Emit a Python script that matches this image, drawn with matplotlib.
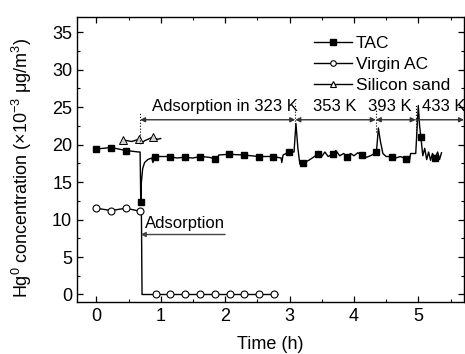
import matplotlib
matplotlib.use('Agg')
import matplotlib.pyplot as plt
from matplotlib.lines import Line2D
from matplotlib.ticker import MultipleLocator

plt.rcParams['font.family'] = ['Liberation Sans', 'DejaVu Sans']
plt.rcParams['mathtext.fontset'] = 'custom'
plt.rcParams['mathtext.rm'] = 'Liberation Sans'
plt.rcParams['mathtext.it'] = 'Liberation Sans'

# TAC trace
tac_t = [0, 0.23, 0.46, 0.66, 0.68, 0.69, 0.70, 0.72, 0.75, 0.80, 0.86, 0.88, 0.91,
         1.14, 1.25, 1.37, 1.50, 1.61, 1.75, 1.84, 1.87, 1.90, 2.06, 2.29, 2.52, 2.75,
         2.87, 2.88, 2.90, 2.99, 3.07, 3.10, 3.13, 3.16, 3.21, 3.30, 3.44, 3.50, 3.55,
         3.60, 3.67, 3.72, 3.78, 3.84, 3.89, 3.95, 4.00, 4.06, 4.12, 4.20, 4.28, 4.35,
         4.38, 4.41, 4.45, 4.50, 4.59, 4.65, 4.72, 4.81, 4.86, 4.88, 4.96, 4.98, 5.00,
         5.02, 5.04, 5.07, 5.10, 5.13, 5.16, 5.19, 5.22, 5.26, 5.30, 5.33, 5.36]
tac_v = [19.4, 19.6, 19.2, 19.0, 19.0, 12.4, 15.0, 16.8, 17.6, 18.0, 18.2, 17.6, 18.4,
         18.4, 18.2, 18.3, 18.2, 18.4, 18.3, 18.1, 17.6, 18.6, 18.7, 18.6, 18.4, 18.4,
         18.2, 17.6, 18.6, 19.0, 19.0, 22.8, 19.5, 17.4, 17.5, 17.9, 18.7, 18.4, 19.0,
         18.4, 18.7, 19.2, 18.5, 18.8, 18.4, 18.8, 18.5, 18.9, 18.6, 18.3, 18.6, 19.0,
         22.2, 20.5, 18.8, 18.4, 18.4, 18.2, 18.4, 18.1, 17.6, 18.8, 18.8, 22.0, 25.2,
         22.5, 21.0, 18.5, 19.5, 18.0, 19.0, 17.9, 18.8, 18.2, 19.0, 18.0, 18.9]
tac_mt = [0, 0.23, 0.46, 0.69, 0.91, 1.14, 1.37, 1.61, 1.84, 2.06, 2.29, 2.52, 2.75,
          2.99, 3.21, 3.44, 3.67, 3.89, 4.12, 4.35, 4.59, 4.81, 5.04, 5.26]
tac_mv = [19.4, 19.6, 19.2, 12.4, 18.4, 18.4, 18.3, 18.4, 18.1, 18.7, 18.6, 18.4, 18.4,
          19.0, 17.5, 18.7, 18.7, 18.4, 18.6, 19.0, 18.4, 18.1, 21.0, 18.2]

# Virgin AC
vac_t = [0, 0.23, 0.46, 0.68, 0.70, 0.71, 0.92, 1.15, 1.38, 1.61, 1.84, 2.07, 2.30, 2.53, 2.76, 2.82]
vac_v = [11.5, 11.2, 11.5, 11.1, 11.1, 0, 0, 0, 0, 0, 0, 0, 0, 0, 0, 0]
vac_mt = [0, 0.23, 0.46, 0.68, 0.92, 1.15, 1.38, 1.61, 1.84, 2.07, 2.30, 2.53, 2.76]
vac_mv = [11.5, 11.2, 11.5, 11.1, 0, 0, 0, 0, 0, 0, 0, 0, 0]

# Silicon sand
sis_t = [0.42, 0.55, 0.66, 0.68, 0.69, 0.75, 0.88, 0.95, 1.0]
sis_v = [20.6, 20.4, 20.7, 20.6, 20.1, 20.5, 21.0, 20.7, 20.8]
sis_mt = [0.42, 0.66, 0.88]
sis_mv = [20.6, 20.7, 21.0]

# stage boundaries and labels
bounds = [0.68, 3.09, 4.34, 4.96, 5.71]
dot_lo = [20.5, 22.3, 21.7, 21.2]
dot_hi = [24.4, 25.5, 25.0, 25.3]
stage_labels = ['Adsorption in 323 K', '353 K', '393 K', '433 K']
stage_x = [0.87, 3.37, 4.22, 5.05]

fig = plt.figure(figsize=(4.65, 3.54), dpi=100)
ax = fig.add_axes([0.1656, 0.1469, 0.8323, 0.805])

ax.plot(tac_t, tac_v, '-', color='k', lw=1.0)
ax.plot(tac_mt, tac_mv, 's', color='k', ms=5)
ax.plot(vac_t, vac_v, '-', color='k', lw=1.0)
ax.plot(vac_mt, vac_mv, 'o', mfc='white', mec='k', ms=5, mew=0.8)
ax.plot(sis_t, sis_v, '-', color='k', lw=1.0)
ax.plot(sis_mt, sis_mv, '^', mfc='#d0d0d0', mec='k', ms=6, mew=0.7)

for x, lo, hi in zip(bounds[:4], dot_lo, dot_hi):
    ax.plot([x, x], [lo, hi], ':', color='k', lw=0.8)

arrow_y = 23.3
for i in range(4):
    style = '<|-|>' if i < 3 else '<|-'
    ax.annotate('', xy=(bounds[i], arrow_y), xytext=(bounds[i + 1], arrow_y),
                arrowprops=dict(arrowstyle=style, color='#333333', lw=1.0,
                                mutation_scale=7, shrinkA=0, shrinkB=0))
for x, s in zip(stage_x, stage_labels):
    ax.text(x, 24.5, s, fontsize=12, va='baseline')

ax.annotate('', xy=(0.69, 8.0), xytext=(2.0, 8.0),
            arrowprops=dict(arrowstyle='-|>', color='#444444', lw=1.0,
                            mutation_scale=7, shrinkA=0, shrinkB=0))
ax.text(0.75, 8.9, 'Adsorption', fontsize=12, va='baseline')

ax.set_xlim(-0.3, 5.71)
ax.set_ylim(-1, 37)
ax.xaxis.set_major_locator(MultipleLocator(1))
ax.xaxis.set_minor_locator(MultipleLocator(0.5))
ax.yaxis.set_major_locator(MultipleLocator(5))
ax.yaxis.set_minor_locator(MultipleLocator(2.5))
ax.tick_params(which='both', direction='in', top=True, right=True, labelsize=13)
ax.tick_params(which='major', length=4, width=0.9)
ax.tick_params(which='minor', length=2.5, width=0.8)
ax.tick_params(axis='x', pad=4.5)
for sp in ax.spines.values():
    sp.set_linewidth(1.0)

ax.set_xlabel('Time (h)', fontsize=13, labelpad=7.5)
ax.set_ylabel('Hg$^0$ concentration ($\\times$10$^{-3}$ $\\mu$g/m$^3$)', fontsize=13)
ax.yaxis.set_label_coords(-0.112, 0.47)

handles = [
    Line2D([], [], color='k', lw=1.0, marker='s', ms=4),
    Line2D([], [], color='k', lw=1.0, marker='o', mfc='white', ms=4, mew=0.8),
    Line2D([], [], color='k', lw=1.0, marker='^', mfc='white', ms=4, mew=0.8),
]
ax.legend(handles, ['TAC', 'Virgin AC', 'Silicon sand'], frameon=False,
          loc='upper left', bbox_to_anchor=(0.612, 0.933), handlelength=2.2,
          handletextpad=0.2, labelspacing=0.33, fontsize=12.5,
          borderaxespad=0, borderpad=0)

fig.savefig('out.png', dpi=100)
